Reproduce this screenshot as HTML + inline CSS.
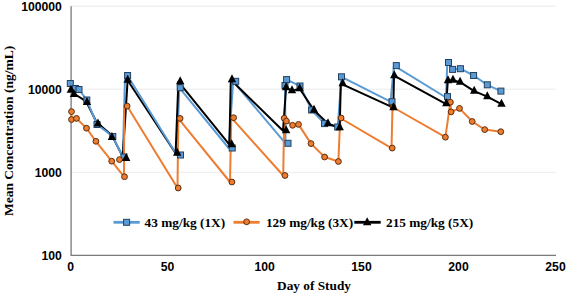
<!DOCTYPE html>
<html><head><meta charset="utf-8"><style>
html,body{margin:0;padding:0;background:#fff;}
body{width:567px;height:294px;overflow:hidden;}
svg{display:block;}
</style></head><body>
<svg width="567" height="294" viewBox="0 0 567 294">
<rect width="567" height="294" fill="#fff"/>
<g stroke="#ebebeb" stroke-width="1"><line x1="70.6" y1="6.2" x2="555.5" y2="6.2"/><line x1="70.6" y1="89.2" x2="555.5" y2="89.2"/><line x1="70.6" y1="172.3" x2="555.5" y2="172.3"/></g>
<path d="M71.1 6.2V255.4H556" fill="none" stroke="#7a7a7a" stroke-width="1.3"/>
<g font-family="'Liberation Sans', sans-serif" font-weight="700" font-size="12.2" fill="#000" text-anchor="end"><text x="61.8" y="10.6">100000</text><text x="61.8" y="93.6">10000</text><text x="61.8" y="176.7">1000</text><text x="61.8" y="259.7">100</text></g>
<g font-family="'Liberation Sans', sans-serif" font-weight="700" font-size="12.2" fill="#000" text-anchor="middle"><text x="70.6" y="270.8">0</text><text x="167.6" y="270.8">50</text><text x="264.6" y="270.8">100</text><text x="361.5" y="270.8">150</text><text x="458.5" y="270.8">200</text><text x="555.5" y="270.8">250</text></g>
<text x="314" y="290.1" font-family="'Liberation Serif', serif" font-weight="700" font-size="13.3" text-anchor="middle">Day of Study</text>
<text transform="translate(12.8 130.9) rotate(-90)" font-family="'Liberation Serif', serif" font-weight="700" font-size="13.5" text-anchor="middle">Mean Concentration (ng/mL)</text>
<g fill="none" stroke-width="2" stroke-linejoin="round">
<polyline points="70.5,89.0 73.8,93.5 86.1,101.4 96.6,122.3 112,135.6 122.8,156.79999999999998" stroke="#000"/>
<polyline points="127.6,80.2 175.6,153.2" stroke="#000"/>
<polyline points="70.3,83.5 75.5,88.5 79,89.5 86.8,100 97,124.5 112.8,136.5 122.8,157 125,78 127.4,75.5 176.9,155 179.3,87.7 228.6,148 233.2,81.3 285.5,143.3 285,85.5 286.6,79.6 300,86 311.6,110 324.5,123.6 337.7,127 341.5,76.8 390.5,101.7 394,65.6 446,97.5 447.3,62.5 452.6,69.4 460.4,68.7 473.6,75.5 487.3,84.8 500.9,91.1" stroke="#5b9bd5"/>
<polyline points="122.8,156.79999999999998 127.6,80.2" stroke="#000"/>
<polyline points="71.5,111.6 71.5,119.5 76.5,118.4 86.5,128.2 95.9,141.3 111.7,161.2 124,176.7 124.2,106.5 127.1,106.1 177.5,188 178.3,118.4 230,182 231.3,117.7 283.2,175.5 284.2,118.2 286.4,121.1 292.6,125.3 298.5,124.4 311,143.6 324.6,157 338.4,161.5 340.2,118 391.5,148.1 392.5,107 445.4,137.2 450.4,102.2 451.1,111.9 459.5,108.4 472.2,121.5 484.7,129.6 500.8,131.7" stroke="#ed7d31"/>
<polyline points="175.6,153.2 178.4,81.7 229.4,144.7 230.8,79.7 283,130.7 286.1,87.7 292,90.7 299.7,88.7 314,110.2 328,123.7 339.7,127.7 340.8,83.7 393.3,107.7 394,75.7 446.2,104.2 447.8,80.7 453,80.2 460.1,82.2 474.2,91.2 487.3,96.7 501.5,104.2" stroke="#000"/>
</g>
<g fill="#5b9bd5" stroke="#24415f" stroke-width="1"><rect x="67.30" y="80.50" width="6.0" height="6.0"/><rect x="72.50" y="85.50" width="6.0" height="6.0"/><rect x="76.00" y="86.50" width="6.0" height="6.0"/><rect x="83.80" y="97.00" width="6.0" height="6.0"/><rect x="94.00" y="121.50" width="6.0" height="6.0"/><rect x="109.80" y="133.50" width="6.0" height="6.0"/><rect x="121.00" y="154.00" width="6.0" height="6.0"/><rect x="124.60" y="72.50" width="6.0" height="6.0"/><rect x="177.50" y="152.00" width="6.0" height="6.0"/><rect x="177.20" y="84.70" width="6.0" height="6.0"/><rect x="229.20" y="145.00" width="6.0" height="6.0"/><rect x="232.70" y="78.30" width="6.0" height="6.0"/><rect x="285.00" y="140.30" width="6.0" height="6.0"/><rect x="282.00" y="82.50" width="6.0" height="6.0"/><rect x="283.60" y="76.60" width="6.0" height="6.0"/><rect x="297.00" y="83.00" width="6.0" height="6.0"/><rect x="308.60" y="107.00" width="6.0" height="6.0"/><rect x="321.50" y="120.60" width="6.0" height="6.0"/><rect x="334.70" y="124.00" width="6.0" height="6.0"/><rect x="338.50" y="73.80" width="6.0" height="6.0"/><rect x="389.00" y="98.70" width="6.0" height="6.0"/><rect x="393.30" y="62.60" width="6.0" height="6.0"/><rect x="444.50" y="93.60" width="6.0" height="6.0"/><rect x="445.50" y="59.50" width="6.0" height="6.0"/><rect x="449.60" y="66.40" width="6.0" height="6.0"/><rect x="457.40" y="65.70" width="6.0" height="6.0"/><rect x="470.60" y="72.50" width="6.0" height="6.0"/><rect x="484.30" y="81.80" width="6.0" height="6.0"/><rect x="497.90" y="88.10" width="6.0" height="6.0"/></g>
<g fill="#ed7d31" stroke="#5a2e0f" stroke-width="1"><circle cx="71.5" cy="111.6" r="2.9"/><circle cx="71.5" cy="119.5" r="2.9"/><circle cx="76.5" cy="118.4" r="2.9"/><circle cx="86.5" cy="128.2" r="2.9"/><circle cx="95.9" cy="141.3" r="2.9"/><circle cx="111.7" cy="161.2" r="2.9"/><circle cx="119.5" cy="159.6" r="2.9"/><circle cx="124.5" cy="176.7" r="2.9"/><circle cx="127.1" cy="106.1" r="2.9"/><circle cx="178.2" cy="188" r="2.9"/><circle cx="180.1" cy="118.4" r="2.9"/><circle cx="231.9" cy="182" r="2.9"/><circle cx="233.6" cy="117.7" r="2.9"/><circle cx="285" cy="175.5" r="2.9"/><circle cx="284.2" cy="118.2" r="2.9"/><circle cx="286.4" cy="121.1" r="2.9"/><circle cx="292.6" cy="125.3" r="2.9"/><circle cx="298.5" cy="124.4" r="2.9"/><circle cx="311" cy="143.6" r="2.9"/><circle cx="324.6" cy="157" r="2.9"/><circle cx="338.4" cy="161.5" r="2.9"/><circle cx="341.1" cy="118" r="2.9"/><circle cx="392.2" cy="148.1" r="2.9"/><circle cx="393" cy="107" r="2.9"/><circle cx="445.4" cy="137.2" r="2.9"/><circle cx="450.4" cy="102.2" r="2.9"/><circle cx="451.1" cy="111.9" r="2.9"/><circle cx="459.5" cy="108.4" r="2.9"/><circle cx="472.2" cy="121.5" r="2.9"/><circle cx="484.7" cy="129.6" r="2.9"/><circle cx="500.8" cy="131.7" r="2.9"/></g>
<g fill="#000"><path d="M70.90 84.70L75.10 92.70L66.70 92.70Z"/><path d="M74.00 88.90L78.20 96.90L69.80 96.90Z"/><path d="M87.00 97.10L91.20 105.10L82.80 105.10Z"/><path d="M98.00 118.50L102.20 126.50L93.80 126.50Z"/><path d="M111.90 132.10L116.10 140.10L107.70 140.10Z"/><path d="M126.20 153.00L130.40 161.00L122.00 161.00Z"/><path d="M127.70 74.70L131.90 82.70L123.50 82.70Z"/><path d="M177.20 147.70L181.40 155.70L173.00 155.70Z"/><path d="M180.20 76.20L184.40 84.20L176.00 84.20Z"/><path d="M231.70 139.20L235.90 147.20L227.50 147.20Z"/><path d="M232.00 74.20L236.20 82.20L227.80 82.20Z"/><path d="M286.10 125.20L290.30 133.20L281.90 133.20Z"/><path d="M286.10 82.20L290.30 90.20L281.90 90.20Z"/><path d="M292.00 85.20L296.20 93.20L287.80 93.20Z"/><path d="M299.70 83.20L303.90 91.20L295.50 91.20Z"/><path d="M314.00 104.70L318.20 112.70L309.80 112.70Z"/><path d="M328.00 118.20L332.20 126.20L323.80 126.20Z"/><path d="M339.70 122.20L343.90 130.20L335.50 130.20Z"/><path d="M342.70 78.20L346.90 86.20L338.50 86.20Z"/><path d="M393.50 102.20L397.70 110.20L389.30 110.20Z"/><path d="M394.30 70.20L398.50 78.20L390.10 78.20Z"/><path d="M446.30 98.20L450.50 106.20L442.10 106.20Z"/><path d="M448.00 75.20L452.20 83.20L443.80 83.20Z"/><path d="M453.00 74.70L457.20 82.70L448.80 82.70Z"/><path d="M460.10 76.70L464.30 84.70L455.90 84.70Z"/><path d="M474.20 85.70L478.40 93.70L470.00 93.70Z"/><path d="M487.30 91.20L491.50 99.20L483.10 99.20Z"/><path d="M501.50 98.70L505.70 106.70L497.30 106.70Z"/></g>
<g stroke-width="2.8">
<line x1="113.5" y1="222.3" x2="139.7" y2="222.3" stroke="#5b9bd5"/>
<line x1="233.5" y1="222.3" x2="259.6" y2="222.3" stroke="#ed7d31"/>
<line x1="354.3" y1="222.3" x2="380.7" y2="222.3" stroke="#000"/>
</g>
<g fill="#5b9bd5" stroke="#24415f" stroke-width="1"><rect x="123.60" y="219.30" width="6.0" height="6.0"/></g>
<g fill="#ed7d31" stroke="#5a2e0f" stroke-width="1"><circle cx="246.6" cy="221.8" r="2.9"/></g>
<g fill="#000"><path d="M367.20 217.20L371.40 225.20L363.00 225.20Z"/></g>
<g font-family="'Liberation Serif', serif" font-weight="700" font-size="13.3" fill="#000">
<text x="144.6" y="227.3">43 mg/kg (1X)</text>
<text x="265.9" y="227.3">129 mg/kg (3X)</text>
<text x="386.0" y="227.3">215 mg/kg (5X)</text>
</g>
</svg>
</body></html>
